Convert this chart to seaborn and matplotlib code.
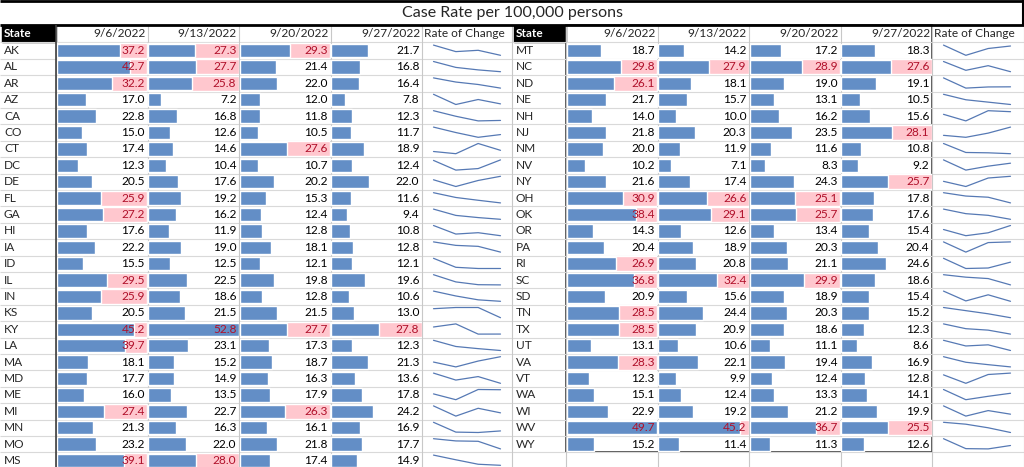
import numpy as np
import pandas as pd
import matplotlib.pyplot as plt
import seaborn as sns

# week columns
dates = ['9/6/2022', '9/13/2022', '9/20/2022', '9/27/2022']

# left table
left_states = ['AK', 'AL', 'AR', 'AZ', 'CA', 'CO', 'CT', 'DC', 'DE', 'FL', 'GA', 'HI', 'IA',
               'ID', 'IL', 'IN', 'KS', 'KY', 'LA', 'MA', 'MD', 'ME', 'MI', 'MN', 'MO', 'MS']
left_0906 = [37.2, 42.7, 32.2, 17.0, 22.8, 15.0, 17.4, 12.3, 20.5, 25.9, 27.2, 17.6, 22.2,
             15.5, 29.5, 25.9, 20.5, 45.2, 39.7, 18.1, 17.7, 16.0, 27.4, 21.3, 23.2, 39.1]
left_0913 = [27.3, 27.7, 25.8, 7.2, 16.8, 12.6, 14.6, 10.4, 17.6, 19.2, 16.2, 11.9, 19.0,
             12.5, 22.5, 18.6, 21.5, 52.8, 23.1, 15.2, 14.9, 13.5, 22.7, 16.3, 22.0, 28.0]
left_0920 = [29.3, 21.4, 22.0, 12.0, 11.8, 10.5, 27.6, 10.7, 20.2, 15.3, 12.4, 12.8, 18.1,
             12.1, 19.8, 12.8, 21.5, 27.7, 17.3, 18.7, 16.3, 17.9, 26.3, 16.1, 21.8, 17.4]
left_0927 = [21.7, 16.8, 16.4, 7.8, 12.3, 11.7, 18.9, 12.4, 22.0, 11.6, 9.4, 10.8, 12.8,
             12.1, 19.6, 10.6, 13.0, 27.8, 12.3, 21.3, 13.6, 17.8, 24.2, 16.9, 17.7, 14.9]

# right table
right_states = ['MT', 'NC', 'ND', 'NE', 'NH', 'NJ', 'NM', 'NV', 'NY', 'OH', 'OK', 'OR', 'PA',
                'RI', 'SC', 'SD', 'TN', 'TX', 'UT', 'VA', 'VT', 'WA', 'WI', 'WV', 'WY']
right_0906 = [18.7, 29.8, 26.1, 21.7, 14.0, 21.8, 20.0, 10.2, 21.6, 30.9, 38.4, 14.3, 20.4,
              26.9, 36.8, 20.9, 28.5, 28.5, 13.1, 28.3, 12.3, 15.1, 22.9, 49.7, 15.2]
right_0913 = [14.2, 27.9, 18.1, 15.7, 10.0, 20.3, 11.9, 7.1, 17.4, 26.6, 29.1, 12.6, 18.9,
              20.8, 32.4, 15.6, 24.4, 20.9, 10.6, 22.1, 9.9, 12.4, 19.2, 45.2, 11.4]
right_0920 = [17.2, 28.9, 19.0, 13.1, 16.2, 23.5, 11.6, 8.3, 24.3, 25.1, 25.7, 13.4, 20.3,
              21.1, 29.9, 18.9, 20.3, 18.6, 11.1, 19.4, 12.4, 13.3, 21.2, 36.7, 11.3]
right_0927 = [18.3, 27.6, 19.1, 10.5, 15.6, 28.1, 10.8, 9.2, 25.7, 17.8, 17.6, 15.4, 20.4,
              24.6, 18.6, 15.4, 15.2, 12.3, 8.6, 16.9, 12.8, 14.1, 19.9, 25.5, 12.6]

THRESH = 25  # cells above this get the pink highlight

W, H = 1024, 467
ROW_TOP, ROW_H = 42.3, 16.4
COL_W = 91.5
FS = 8.6
BAR_BLUE = '#638EC6'
PINK = '#FFC7CE'
RED_TXT = '#B0102A'
SPARK = '#5679B4'

sns.set_style('white')
plt.rcParams['font.family'] = ['Lato', 'DejaVu Sans']

fig = plt.figure(figsize=(W / 100, H / 100), dpi=100)
bg = fig.add_axes([0, 0, 1, 1])
bg.set_xlim(0, W)
bg.set_ylim(H, 0)
bg.axis('off')


def px_axes(x, y, w, h):
    a = fig.add_axes([x / W, 1 - (y + h) / H, w / W, h / H])
    a.patch.set_visible(False)
    return a


# sheet gridlines
for k in range(27):
    bg.hlines(ROW_TOP + k * ROW_H, 0, W, color='#D9D9D9', lw=0.8)
for gx in [56, 147.5, 239, 330.5, 422, 512, 566, 657.5, 749, 840.5, 932, 1023.5]:
    bg.vlines(gx, 25, H, color='#C8C8C8', lw=0.8)

# title block
bg.hlines(0.8, 0, W, color='black', lw=2)
bg.hlines(24.8, 0, W, color='black', lw=2)
bg.vlines(1023, 0, 25, color='black', lw=1.5)
bg.text(512, 13, 'Case Rate per 100,000 persons', ha='center', va='center', fontsize=11.5)


def draw_table(states, cols, x_state, x_data):
    n = len(states)
    vmax = max(max(c) for c in cols)
    df = pd.DataFrame({'State': states})
    for d, c in zip(dates, cols):
        df[d] = c

    bg.add_patch(plt.Rectangle((x_state + 2, 25.8), x_data - x_state - 2.5, ROW_TOP - 26,
                               color='black'))
    bg.text(x_state + 4, 33.8, 'State', color='white', weight='bold', va='center', fontsize=FS)
    for i, s in enumerate(states):
        bg.text(x_state + 4, ROW_TOP + ROW_H * (i + 0.5), s, va='center', fontsize=FS)

    for j, d in enumerate(dates):
        x0 = x_data + j * COL_W
        bg.text(x0 + COL_W - 2, 33.8, d, ha='right', va='center', fontsize=FS)
        ax = px_axes(x0 + 0.8, ROW_TOP, COL_W - 1.3, ROW_H * n)
        sns.barplot(data=df, x=d, y='State', orient='h', color=BAR_BLUE, saturation=1,
                    width=0.82, errorbar=None, ax=ax)
        hi = df[d] > THRESH
        ax.barh(np.flatnonzero(hi), vmax, height=0.92, color=PINK, zorder=0.5)
        for i, v in enumerate(df[d]):
            ax.annotate(f'{v:.1f}', xy=(vmax, i), xytext=(-1.5, 0), textcoords='offset points',
                        ha='right', va='center', fontsize=FS,
                        color=RED_TXT if v > THRESH else 'black', zorder=5)
        ax.set_xlim(0, vmax)
        ax.set_ylim(n - 0.5, -0.5)
        ax.axis('off')

    xr = x_data + 4 * COL_W
    bg.text(xr + 1.5, 33.8, 'Rate of Change', va='center', fontsize=FS)
    for i in range(n):
        vals = [c[i] for c in cols]
        sa = px_axes(xr + 11.5, ROW_TOP + ROW_H * i + 2.8, 67, 10.2)
        sns.lineplot(x=range(4), y=vals, ax=sa, color=SPARK, linewidth=0.9)
        for ln in sa.lines:
            ln.set_clip_on(False)
        sa.set_xlim(0, 3)
        sa.set_ylim(min(vals), max(vals))
        sa.axis('off')
    return n


draw_table(left_states, [left_0906, left_0913, left_0920, left_0927], 0, 56)
n_right = draw_table(right_states, [right_0906, right_0913, right_0920, right_0927], 512, 566)

# table borders
bg.vlines(56, 25, H, color='#404040', lw=1.2)
bg.add_patch(plt.Rectangle((566, 25), 4 * COL_W, ROW_TOP + n_right * ROW_H - 25,
                           fill=False, edgecolor='#404040', lw=1.2))

fig.savefig('out.png', dpi=100)
